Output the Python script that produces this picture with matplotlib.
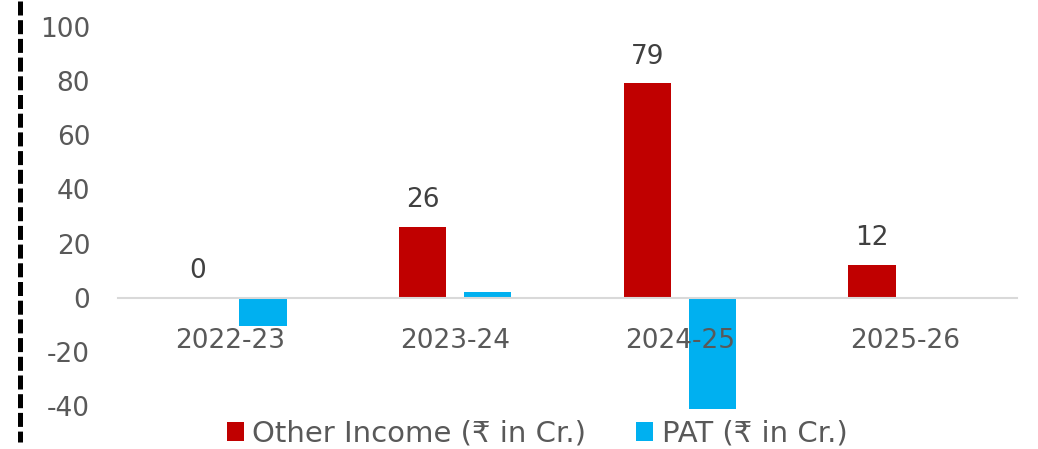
import numpy as np
import matplotlib.pyplot as plt
from matplotlib.lines import Line2D

years = ['2022-23', '2023-24', '2024-25', '2025-26']
other_income = [0, 26, 79, 12]
pat = [-10.5, 2, -41, 0]
income_labels = ['0', '26', '79', '12']

red = '#C00000'
blue = '#00B0F0'
grey_txt = '#595959'

plt.rcParams['font.family'] = ['DejaVu Sans']
plt.rcParams['axes.unicode_minus'] = False
fs = 19

fig = plt.figure(figsize=(10.38, 4.49), dpi=100)
ax = fig.add_axes([118 / 1038, 1 - 409 / 449, (1017 - 118) / 1038, (409 - 26.5) / 449])

x = np.arange(len(years))
w = 0.21
off = 0.145
ax.bar(x - off, other_income, w, color=red, label='Other Income (₹ in Cr.)')
ax.bar(x + off, pat, w, color=blue, label='PAT (₹ in Cr.)')

for xi, v, s in zip(x, other_income, income_labels):
    ax.annotate(s, (xi - off, v), xytext=(0, 10), textcoords='offset points',
                ha='center', va='bottom', fontsize=fs, color='#404040')

ax.set_xlim(-0.5, 3.5)
ax.set_ylim(-41, 100)
ax.set_yticks(range(-40, 101, 20))
ax.set_xticks(x)
ax.set_xticklabels(years)

for s in ['top', 'right', 'left']:
    ax.spines[s].set_visible(False)
ax.spines['bottom'].set_position(('data', 0))
ax.spines['bottom'].set_color('#D9D9D9')
ax.spines['bottom'].set_linewidth(1.5)
ax.tick_params(axis='both', length=0, labelsize=fs, labelcolor=grey_txt)
ax.tick_params(axis='x', pad=22)
ax.tick_params(axis='y', pad=20)

ax.legend(loc='center', bbox_to_anchor=(0.466, -0.065), ncol=2, frameon=False,
          fontsize=21, labelcolor=grey_txt, handlelength=0.6, handleheight=0.6,
          handletextpad=0.28, columnspacing=1.7)

# dashed separator at the left
fig.add_artist(Line2D([19.5 / 1038, 19.5 / 1038], [1 - 1 / 449, 1 - 442 / 449],
                      transform=fig.transFigure, color='black', lw=3.6,
                      linestyle=(0, (2.8, 0.94)), solid_capstyle='butt',
                      dash_capstyle='butt'))

fig.savefig('out.png', dpi=100)
